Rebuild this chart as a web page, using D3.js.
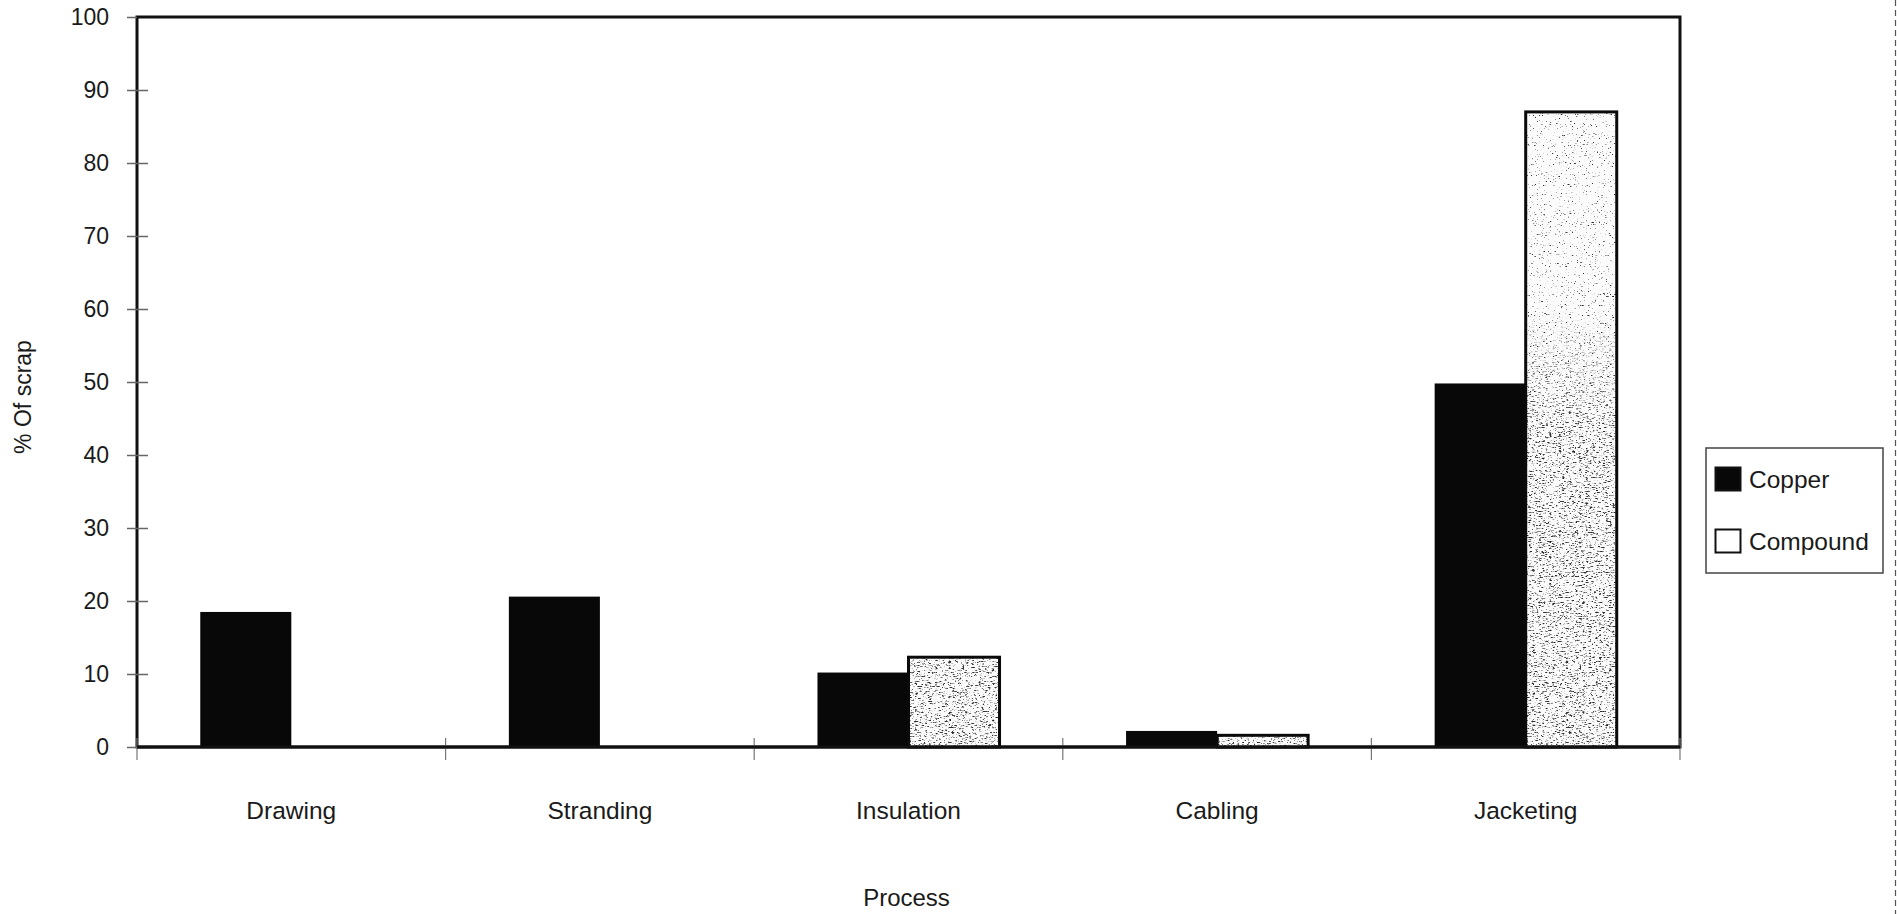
<!DOCTYPE html>
<html>
<head>
<meta charset="utf-8">
<script src="https://cdn.jsdelivr.net/npm/d3@7"></script>
<style>
  html, body { margin: 0; padding: 0; background: #ffffff; }
  svg { display: block; }
  text { font-family: "Liberation Sans", Arial, Helvetica, sans-serif; fill: #1a1a1a; }
</style>
</head>
<body>
<svg id="chart" width="1897" height="914"></svg>
<script>
// Scrap share by process stage
const categories = ["Drawing", "Stranding", "Insulation", "Cabling", "Jacketing"];
const copperValues = [18.5, 20.6, 10.2, 2.2, 49.8];
const compoundValues = [0, 0, 12.3, 1.6, 87.0];
const seriesNames = ["Copper", "Compound"];
const yTicks = [0, 10, 20, 30, 40, 50, 60, 70, 80, 90, 100];
const yTitle = "% Of scrap";
const xTitle = "Process";

const svg = d3.select("#chart");
const plot = { left: 137, right: 1680, top: 17, bottom: 747 };

const x = d3.scaleBand().domain(categories).range([plot.left, plot.right]).paddingInner(0).paddingOuter(0);
const y = d3.scaleLinear().domain([0, 100]).range([plot.bottom, plot.top]);
const barW = x.bandwidth() * 0.295;

// --- stipple texture for the compound bars ---
const defs = svg.append("defs");
function grainFilter(id, freq, seed, slope, offset) {
  const f = defs.append("filter").attr("id", id)
    .attr("x", 0).attr("y", 0).attr("width", 1).attr("height", 1)
    .attr("color-interpolation-filters", "sRGB");
  f.append("feTurbulence").attr("type", "fractalNoise")
    .attr("baseFrequency", freq).attr("numOctaves", 2).attr("seed", seed).attr("result", "noise");
  f.append("feColorMatrix").attr("in", "noise").attr("type", "matrix")
    .attr("values", `0 0 0 0 0.18  0 0 0 0 0.18  0 0 0 0 0.18  ${slope} 0 0 0 ${offset}`);
}
grainFilter("grainLight", "0.45 0.9", 7, -7, 2.4);
grainFilter("grainDense", "0.3 0.8", 11, -6, 2.5);

const grad = defs.append("linearGradient").attr("id", "denseRamp")
  .attr("gradientUnits", "userSpaceOnUse")
  .attr("x1", 0).attr("x2", 0).attr("y1", y(60)).attr("y2", y(44));
grad.append("stop").attr("offset", 0).attr("stop-color", "#000");
grad.append("stop").attr("offset", 1).attr("stop-color", "#fff");
defs.append("mask").attr("id", "denseMask")
  .attr("maskUnits", "userSpaceOnUse")
  .attr("x", 0).attr("y", 0).attr("width", 1897).attr("height", 914)
  .append("rect").attr("x", 0).attr("y", 0).attr("width", 1897).attr("height", 914)
  .attr("fill", "url(#denseRamp)");

// --- plot frame ---
svg.append("rect")
  .attr("x", plot.left).attr("y", plot.top)
  .attr("width", plot.right - plot.left).attr("height", plot.bottom - plot.top)
  .attr("fill", "none").attr("stroke", "#111").attr("stroke-width", 3);

// --- y axis ---
const yAxis = svg.append("g")
  .attr("transform", `translate(${plot.left},0)`)
  .call(d3.axisLeft(y).tickValues(yTicks).tickSizeInner(10).tickSizeOuter(0).tickPadding(18));
yAxis.select(".domain").remove();
yAxis.selectAll(".tick line")
  .attr("x1", d => d === 100 ? 0 : 11).attr("x2", -10)
  .attr("stroke", "#666").attr("stroke-width", 1.5);
yAxis.selectAll(".tick text")
  .attr("font-size", 23).attr("fill", "#1a1a1a")
  .style("font-family", "'Liberation Sans', Arial, sans-serif");

// --- x axis: boundary ticks and category labels ---
const bounds = categories.map(c => x(c)).concat([x.range()[1]]);
svg.append("g").selectAll("line").data(bounds).join("line")
  .attr("x1", d => d).attr("x2", d => d)
  .attr("y1", plot.bottom - 9).attr("y2", plot.bottom + 13)
  .attr("stroke", "#777").attr("stroke-width", 1.2);

svg.append("g").selectAll("text").data(categories).join("text")
  .attr("x", d => x(d) + x.bandwidth() / 2)
  .attr("y", plot.bottom + 72)
  .attr("text-anchor", "middle")
  .attr("font-size", 24.5)
  .text(d => d);

// --- bars ---
const groups = svg.append("g").selectAll("g").data(categories).join("g")
  .attr("transform", d => `translate(${x(d) + x.bandwidth() / 2},0)`);

groups.append("rect")
  .attr("x", -barW).attr("width", barW)
  .attr("y", (d, i) => y(copperValues[i]))
  .attr("height", (d, i) => y(0) - y(copperValues[i]))
  .attr("fill", "#080808");

const comp = groups.filter((d, i) => compoundValues[i] > 0);
const compTop = d => y(compoundValues[categories.indexOf(d)]);
const compH = d => y(0) - compTop(d);

comp.append("rect")
  .attr("x", 0).attr("width", barW)
  .attr("y", compTop).attr("height", compH)
  .attr("fill", "#fbfbfb");
comp.append("rect")
  .attr("x", 0).attr("width", barW)
  .attr("y", compTop).attr("height", compH)
  .attr("fill", "#000").attr("filter", "url(#grainLight)");
comp.append("g").attr("mask", "url(#denseMask)")
  .append("rect")
  .attr("x", 0).attr("width", barW)
  .attr("y", compTop).attr("height", compH)
  .attr("fill", "#000").attr("filter", "url(#grainDense)");
comp.append("rect")
  .attr("x", 0).attr("width", barW)
  .attr("y", compTop).attr("height", compH)
  .attr("fill", "none").attr("stroke", "#0a0a0a").attr("stroke-width", 3);

// bottom axis line drawn over bar bases
svg.append("line")
  .attr("x1", plot.left).attr("x2", plot.right)
  .attr("y1", plot.bottom).attr("y2", plot.bottom)
  .attr("stroke", "#111").attr("stroke-width", 3);

// --- axis titles ---
svg.append("text")
  .attr("transform", `translate(31,${(plot.top + plot.bottom) / 2 + 15}) rotate(-90)`)
  .attr("text-anchor", "middle")
  .attr("font-size", 23)
  .text(yTitle);

svg.append("text")
  .attr("x", (plot.left + plot.right) / 2 - 2)
  .attr("y", 906)
  .attr("text-anchor", "middle")
  .attr("font-size", 24)
  .text(xTitle);

// --- legend ---
const legend = svg.append("g").attr("transform", "translate(1706,448)");
legend.append("rect")
  .attr("width", 177).attr("height", 125)
  .attr("fill", "#fff").attr("stroke", "#444").attr("stroke-width", 1.5);
const items = legend.selectAll("g").data(seriesNames).join("g")
  .attr("transform", (d, i) => `translate(9,${19 + i * 62})`);
items.append("rect")
  .attr("x", 0.5).attr("y", 0.5).attr("width", 25).attr("height", 23)
  .attr("fill", (d, i) => i === 0 ? "#080808" : "#fff")
  .attr("stroke", "#111").attr("stroke-width", 2);
items.append("text")
  .attr("x", 34).attr("y", 21)
  .attr("font-size", 24.5)
  .text(d => d);

// scanned page edge
svg.append("line")
  .attr("x1", 1895.5).attr("x2", 1895.5).attr("y1", 0).attr("y2", 914)
  .attr("stroke", "#555").attr("stroke-width", 1.2).attr("stroke-dasharray", "6 4");
</script>
</body>
</html>
